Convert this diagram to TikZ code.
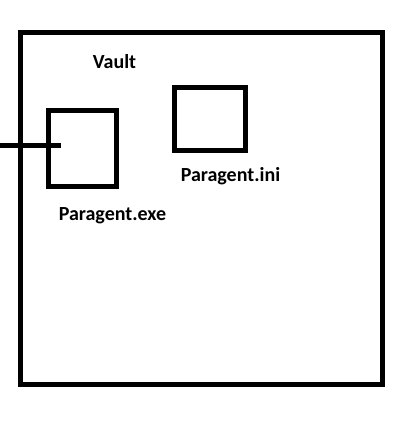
\documentclass[tikz,border=0pt]{standalone}
\usepackage{fontspec}
\setmainfont{Carlito}
\begin{document}
\begin{tikzpicture}[x=1pt,y=-1pt,line width=5pt]

      \useasboundingbox (0,0) rectangle (407,423);

      \begin{scope}[every node/.style={draw,rectangle,inner sep=0pt}]
        \node[minimum width=362.5pt,minimum height=352.5pt] (vault)  at (201.25,208.25) {};
        \node[minimum width=67.5pt,minimum height=75.5pt]   (exe)    at (82.25,148.25)  {};
        \node[minimum width=70.5pt,minimum height=62.5pt]   (ini)    at (209.75,118.75) {};
      \end{scope}

      \begin{scope}[every node/.style={font=\fontsize{20}{24}\selectfont\bfseries,inner sep=0pt}]
        \node (vaultlabel) at (114.5,62)  {Vault};
        \node (inilabel)   at (230.5,176) {Paragent.ini};
        \node (exelabel)   at (112.5,216) {Paragent.exe};
      \end{scope}

      \coordinate (wire) at (0,145);
      \coordinate (plug) at (61,145);
      \draw (wire) -- (plug);

    \end{tikzpicture}
\end{document}
